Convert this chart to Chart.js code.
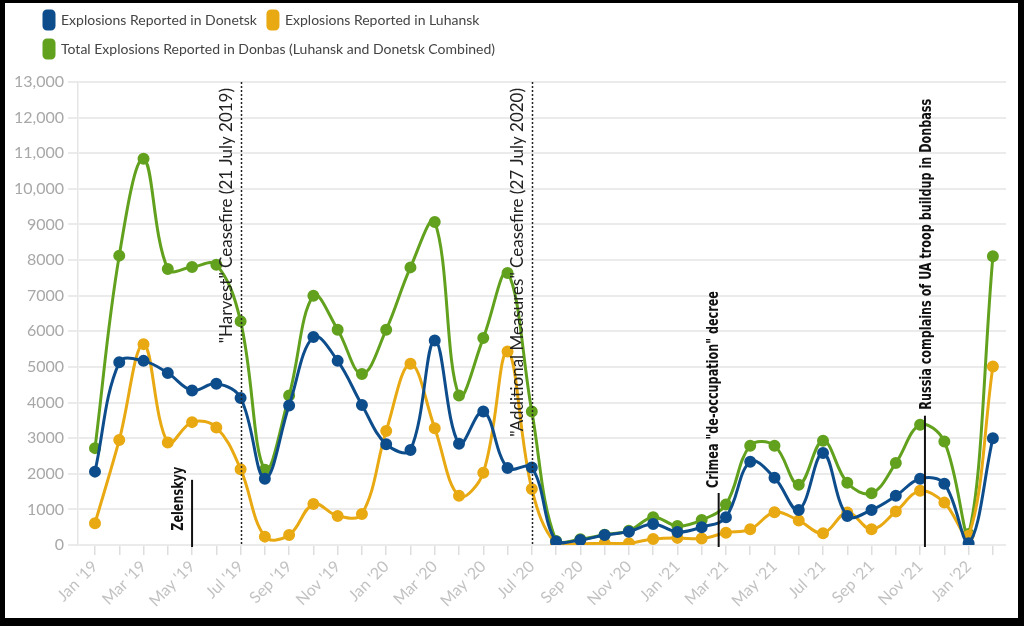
<!DOCTYPE html>
<html>
<head>
<meta charset="utf-8">
<script src="https://cdn.jsdelivr.net/npm/chart.js@4.4.1/dist/chart.umd.min.js"></script>
<style>
  html, body { margin: 0; padding: 0; background: #000; width: 1024px; height: 626px; overflow: hidden; }
  #wrap { position: absolute; left: 5px; top: 3px; width: 1013px; height: 615px; background: #fff; }
</style>
</head>
<body>
<div id="wrap"><canvas id="explosionsChart" width="1013" height="615"></canvas></div>
<script>
const months = [
  "Jan '19", "Feb '19", "Mar '19", "Apr '19", "May '19", "Jun '19", "Jul '19", "Aug '19", "Sep '19", "Oct '19", "Nov '19", "Dec '19",
  "Jan '20", "Feb '20", "Mar '20", "Apr '20", "May '20", "Jun '20", "Jul '20", "Aug '20", "Sep '20", "Oct '20", "Nov '20", "Dec '20",
  "Jan '21", "Feb '21", "Mar '21", "Apr '21", "May '21", "Jun '21", "Jul '21", "Aug '21", "Sep '21", "Oct '21", "Nov '21", "Dec '21",
  "Jan '22", "Feb '22"
];

const donetsk = [
  2060, 5130, 5170, 4830, 4340, 4530, 4130, 1860, 3920, 5840, 5170, 3930,
  2830, 2670, 5740, 2840, 3750, 2160, 2175, 100, 140, 280, 375, 590,
  365, 500, 780, 2340, 1890, 985, 2580, 815, 985, 1380, 1860, 1720,
  50, 3000
];

const luhansk = [
  610, 2950, 5640, 2880, 3450, 3300, 2130, 235, 280, 1150, 815, 870,
  3200, 5090, 3280, 1380, 2030, 5435, 1575, 20, 30, 50, 50, 170,
  200, 180, 345, 440, 920, 685, 330, 910, 440, 940, 1520, 1190,
  260, 5015
];

const donbasTotal = [
  2720, 8125, 10845, 7750, 7805, 7870, 6280, 2110, 4200, 7000, 6045, 4800,
  6045, 7795, 9070, 4200, 5810, 7640, 3750, 110, 160, 290, 400, 780,
  535, 700, 1140, 2790, 2790, 1690, 2925, 1750, 1450, 2300, 3375, 2905,
  310, 8105
];

const seriesNames = [
  'Explosions Reported in Donetsk',
  'Explosions Reported in Luhansk',
  'Total Explosions Reported in Donbas (Luhansk and Donetsk Combined)'
];

// ceasefires: dotted lines over the full height, month index as position
const ceasefires = [
  { at: 6, text: '"Harvest" Ceasefire (21 July 2019)' },
  { at: 18, text: '"Additional Measures" Ceasefire (27 July 2020)' }
];

// other events: short solid line from lineTop down to the axis
const events = [
  { at: 4, lineTop: 1830, textEnd: 400, dx: -13, text: 'Zelenskyy' },
  { at: 25.7, lineTop: 1460, textEnd: 1600, dx: -5, text: 'Crimea "de-occupation" decree' },
  { at: 34.2, lineTop: 3630, textEnd: 3800, dx: 2, text: 'Russia complains of UA troop buildup in Donbass' }
];

const colors = {
  donetsk: '#0d4d8c',
  luhansk: '#e8a912',
  total: '#62a11e'
};

Chart.defaults.font.family = 'Lato, sans-serif';
Chart.defaults.font.size = 16;

const toPoints = arr => arr.map((v, i) => ({ x: i, y: v }));

function lineSet(label, values, color) {
  return {
    label: label,
    data: toPoints(values),
    borderColor: color,
    backgroundColor: color,
    borderWidth: 3,
    pointRadius: 4.5,
    pointHoverRadius: 5,
    tension: 0.38,
    fill: false
  };
}

const LEGEND_WIDTH = 520;

const eventsPlugin = {
  id: 'events',
  afterInit(chart) {
    // wrap the legend into two rows like the original
    const legend = chart.legend;
    const update = legend.update.bind(legend);
    legend.update = (maxWidth, maxHeight, margins) => update(Math.min(maxWidth, LEGEND_WIDTH), maxHeight, margins);
  },
  afterUpdate(chart) {
    // legend sits a bit right of and above where chart.js puts it
    const legend = chart.legend;
    legend.left = 28;
    legend.right = 28 + LEGEND_WIDTH;
    legend.top = -3;
  },
  afterDatasetsDraw(chart) {
    const { ctx, chartArea, scales } = chart;
    const x = scales.x, y = scales.y;
    ctx.save();

    ceasefires.forEach(c => {
      const px = Math.round(x.getPixelForValue(c.at)) + 0.5;
      ctx.beginPath();
      ctx.setLineDash([2, 2]);
      ctx.lineWidth = 1.5;
      ctx.strokeStyle = '#222';
      ctx.moveTo(px, chartArea.top);
      ctx.lineTo(px, chartArea.bottom);
      ctx.stroke();

      ctx.save();
      ctx.translate(px - 15, chartArea.top + 6);
      ctx.rotate(-Math.PI / 2);
      ctx.font = '17px Lato, sans-serif';
      ctx.fillStyle = '#222';
      ctx.textAlign = 'right';
      ctx.textBaseline = 'middle';
      ctx.fillText(c.text, 0, 0);
      ctx.restore();
    });

    events.forEach(e => {
      const px = x.getPixelForValue(e.at);
      ctx.beginPath();
      ctx.setLineDash([]);
      ctx.lineWidth = 2;
      ctx.strokeStyle = '#111';
      ctx.moveTo(px, y.getPixelForValue(e.lineTop));
      ctx.lineTo(px, chartArea.bottom + 2);
      ctx.stroke();

      ctx.save();
      ctx.translate(px + e.dx, y.getPixelForValue(e.textEnd));
      ctx.rotate(-Math.PI / 2);
      ctx.scale(0.78, 1); // squeeze to a condensed look
      ctx.font = 'bold 16px "DejaVu Sans Condensed", sans-serif';
      ctx.fillStyle = '#111';
      ctx.textAlign = 'left';
      ctx.textBaseline = 'middle';
      ctx.fillText(e.text, 0, 0);
      ctx.restore();
    });

    ctx.restore();
  }
};

const ctx = document.getElementById('explosionsChart').getContext('2d');

new Chart(ctx, {
  type: 'line',
  data: {
    datasets: [
      lineSet(seriesNames[0], donetsk, colors.donetsk),
      lineSet(seriesNames[1], luhansk, colors.luhansk),
      lineSet(seriesNames[2], donbasTotal, colors.total)
    ]
  },
  options: {
    responsive: false,
    animation: false,
    layout: { padding: { top: 11, right: 12, bottom: 0, left: 0 } },
    plugins: {
      legend: {
        position: 'top',
        align: 'start',
        labels: {
          boxWidth: 10,
          boxHeight: 18,
          useBorderRadius: true,
          borderRadius: 3,
          padding: 11,
          color: '#444',
          font: { family: 'Lato, sans-serif', size: 14 }
        }
      },
      tooltip: { enabled: false }
    },
    scales: {
      x: {
        type: 'linear',
        min: -0.7,
        max: 37.54,
        afterBuildTicks: scale => {
          scale.ticks = months.map((m, i) => ({ value: i }));
        },
        afterFit: scale => { scale.height = 73; },
        grid: {
          drawOnChartArea: false,
          drawTicks: true,
          tickLength: 10,
          color: '#dedede',
          lineWidth: 1.5
        },
        border: { display: false },
        ticks: {
          autoSkip: false,
          maxRotation: 45,
          minRotation: 45,
          padding: 2,
          color: '#c2c2c2',
          font: { family: 'Lato, sans-serif', size: 16 },
          callback: value => (value % 2 === 0 ? months[value] : '')
        }
      },
      y: {
        min: 0,
        max: 13000,
        afterFit: scale => { scale.width = 73; },
        grid: {
          color: '#ebebeb',
          lineWidth: 2,
          tickLength: 10
        },
        border: { display: true, color: '#e6e6e6', width: 1.5 },
        ticks: {
          stepSize: 1000,
          padding: 4,
          color: '#a8a8a8',
          font: { family: 'Lato, sans-serif', size: 16 },
          callback: v => (v >= 10000 ? v.toLocaleString('en-US') : String(v))
        }
      }
    }
  },
  plugins: [eventsPlugin]
});
</script>
</body>
</html>
